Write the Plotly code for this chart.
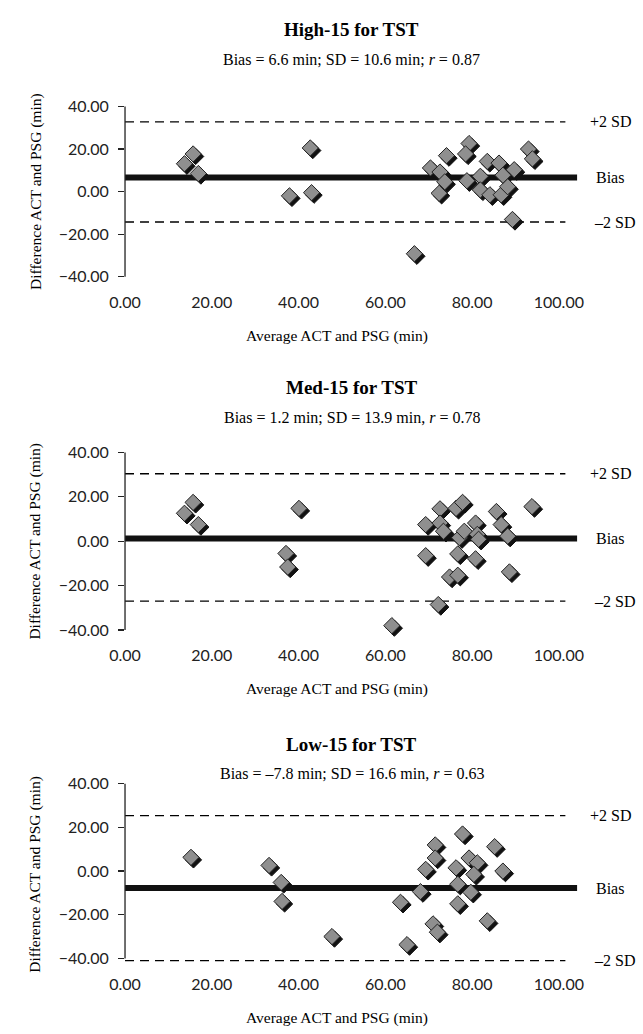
import plotly.graph_objects as go

# ---------------- data ----------------
titles = ["High-15 for TST", "Med-15 for TST", "Low-15 for TST"]
subtitles = [
    "Bias = 6.6 min; SD = 10.6 min; <i>r</i> = 0.87",
    "Bias = 1.2 min; SD = 13.9 min, <i>r</i> = 0.78",
    "Bias = \u20137.8 min; SD = 16.6 min, <i>r</i> = 0.63",
]
bias = [6.6, 1.2, -7.8]
upper_sd = [32.8, 30.4, 25.4]
lower_sd = [-14.3, -27.0, -41.0]

high_x = [13.7, 15.7, 16.9, 37.9, 42.7, 43.0, 66.7, 70.4, 72.6, 73.7, 72.4, 74.1, 79.3, 78.5,
          78.8, 81.9, 83.5, 86.2, 81.9, 84.1, 86.7, 88.2, 87.1, 89.7, 93.0, 93.9, 89.3]
high_y = [13.1, 17.7, 8.5, -2.0, 20.5, -0.5, -29.2, 11.1, 9.2, 4.6, -0.8, 16.9, 22.6, 17.7,
          5.1, 7.2, 14.2, 13.4, 0.8, -1.5, -1.5, 2.3, 7.7, 10.3, 20.0, 15.4, -13.1]

med_x = [13.7, 15.7, 16.9, 37.1, 37.5, 40.1, 61.5, 69.3, 69.3, 72.2, 72.6, 72.6, 73.4, 74.8,
         76.7, 76.3, 77.8, 76.7, 77.1, 78.2, 80.8, 81.2, 81.5, 80.8, 85.6, 86.7, 88.2, 88.6, 93.8]
med_y = [12.6, 17.5, 7.5, -5.5, -11.6, 14.8, -38.0, 7.5, -6.5, -28.5, 14.6, 8.2, 4.5, -16.1,
         -15.3, 14.8, 17.5, -5.7, 1.6, 4.5, 8.2, 3.1, 0.9, -7.9, 13.4, 7.5, 2.3, -13.8, 15.6]

low_x = [15.2, 33.2, 36.0, 36.2, 47.7, 63.5, 65.0, 68.1, 69.3, 71.5, 71.5, 71.0, 72.0, 76.3,
         76.7, 76.7, 77.8, 79.3, 81.2, 80.4, 79.7, 83.5, 85.2, 87.1]
low_y = [6.3, 2.6, -5.2, -13.9, -30.0, -14.3, -33.7, -9.4, 0.8, 12.0, 6.0, -24.2, -28.0, 1.5,
         -6.0, -15.0, 17.0, 6.0, 3.8, -1.5, -9.7, -22.8, 11.2, 0.0]

xs = [high_x, med_x, low_x]
ys = [high_y, med_y, low_y]

x_ticks = [0, 20, 40, 60, 80, 100]
y_ticks = [-40, -20, 0, 20, 40]

# ---------------- layout geometry ----------------
W, H = 643, 1034
x_range = [0, 104.5]
x_dom = [112.7 / W, (112.7 + 104.5 * 4.485) / W]
y_ranges = [[-40, 40], [-40, 40], [-43, 40]]
y_px = [(98.3, 271.7), (450.7, 631.7), (788.3, 972.8)]
title_px = [20, 385, 748]
sub_px = [50, 415, 778]
xtitle_px = [332, 692, 1027]
xlab_standoff = [14, 14, 8]

serif = "Liberation Serif, Times New Roman, serif"
sans = "Lato, Open Sans, sans-serif"

fig = go.Figure()
shapes = []
annotations = []

for i in range(3):
    ax = "" if i == 0 else str(i + 1)
    xr, yr = "x" + ax, "y" + ax
    r0, r1 = y_ranges[i]
    top, bot = y_px[i]
    d0, d1 = 1 - bot / H, 1 - top / H
    ppu_y = (bot - top) / (r1 - r0)
    ppu_x = 4.485
    dx, dy = 2.6 / ppu_x, 2.6 / ppu_y

    fig.add_trace(go.Scatter(x=[0, 101.5], y=[upper_sd[i]] * 2, mode="lines",
                             line=dict(color="black", width=1.3, dash="9px,6px"),
                             xaxis=xr, yaxis=yr, showlegend=False, hoverinfo="skip"))
    fig.add_trace(go.Scatter(x=[0, 101.5], y=[lower_sd[i]] * 2, mode="lines",
                             line=dict(color="black", width=1.3, dash="9px,6px"),
                             xaxis=xr, yaxis=yr, showlegend=False, hoverinfo="skip"))
    fig.add_trace(go.Scatter(x=[0, 104.2], y=[bias[i]] * 2, mode="lines",
                             line=dict(color="#111111", width=6),
                             xaxis=xr, yaxis=yr, showlegend=False, hoverinfo="skip"))
    fig.add_trace(go.Scatter(x=[v + dx for v in xs[i]], y=[v - dy for v in ys[i]], mode="markers",
                             marker=dict(symbol="diamond", size=12.5, color="#111111",
                                         line=dict(color="#111111", width=1)),
                             xaxis=xr, yaxis=yr, showlegend=False, hoverinfo="skip", cliponaxis=False))
    fig.add_trace(go.Scatter(x=xs[i], y=ys[i], mode="markers",
                             marker=dict(symbol="diamond", size=12.5, color="#8f8f8f",
                                         line=dict(color="#222222", width=1)),
                             xaxis=xr, yaxis=yr, showlegend=False, cliponaxis=False))

    fig.update_layout(**{
        "xaxis" + ax: dict(domain=x_dom, range=x_range, anchor=yr, tickvals=x_ticks,
                           tickformat=".2f", showgrid=False, zeroline=False, showline=False,
                           ticks="", ticklabelstandoff=xlab_standoff[i],
                           tickfont=dict(family=sans, size=16, color="#222")),
        "yaxis" + ax: dict(domain=[d0, d1], range=y_ranges[i], anchor=xr, tickvals=y_ticks,
                           tickformat=".2f", showgrid=False, zeroline=False, showline=False,
                           ticks="outside", ticklen=6, tickwidth=1.2, tickcolor="#222",
                           ticklabelstandoff=6,
                           tickfont=dict(family=sans, size=16, color="#222")),
    })
    yb = d0 + (-40 - r0) / (r1 - r0) * (d1 - d0)
    yt = d0 + (40 - r0) / (r1 - r0) * (d1 - d0)
    shapes.append(dict(type="line", xref="paper", yref="paper", x0=x_dom[0], x1=x_dom[0],
                       y0=yb, y1=yt, line=dict(color="#222", width=1.3)))

    cx = (x_dom[0] + x_dom[1]) / 2
    annotations += [
        dict(text="<b>" + titles[i] + "</b>", x=cx, y=1 - title_px[i] / H, xref="paper", yref="paper",
             showarrow=False, font=dict(family=serif, size=19, color="black"),
             xanchor="center", yanchor="middle"),
        dict(text=subtitles[i], x=cx, y=1 - sub_px[i] / H, xref="paper", yref="paper",
             showarrow=False, font=dict(family=serif, size=16, color="black"),
             xanchor="center", yanchor="middle"),
        dict(text="Average ACT and PSG (min)", x=332 / W, y=1 - xtitle_px[i] / H, xref="paper",
             yref="paper", showarrow=False, font=dict(family=serif, size=15.5, color="black"),
             xanchor="center", yanchor="middle"),
        dict(text="Difference ACT and PSG (min)", x=20 / W, y=(d0 + d1) / 2, xref="paper",
             yref="paper", textangle=-90, showarrow=False, xanchor="center", yanchor="middle",
             font=dict(family=serif, size=15.5, color="black")),
        dict(text="+2 SD", x=591.7 / W, y=upper_sd[i], xref="paper", yref=yr, xanchor="left",
             yanchor="middle", showarrow=False, font=dict(family=serif, size=16, color="black")),
        dict(text="Bias", x=598 / W, y=bias[i], xref="paper", yref=yr, xanchor="left",
             yanchor="middle", showarrow=False, font=dict(family=serif, size=16, color="black")),
        dict(text="\u20132 SD", x=595 / W, y=lower_sd[i], xref="paper", yref=yr, xanchor="left",
             yanchor="middle", showarrow=False, font=dict(family=serif, size=16, color="black")),
    ]

fig.update_layout(width=W, height=H, margin=dict(l=0, r=0, t=0, b=0),
                  paper_bgcolor="white", plot_bgcolor="white", hovermode=False,
                  shapes=shapes, annotations=annotations, showlegend=False)

fig.write_html("out.html", config={"displayModeBar": False, "staticPlot": True},
               post_script="document.body.style.margin='0';document.body.style.overflow='hidden';")
